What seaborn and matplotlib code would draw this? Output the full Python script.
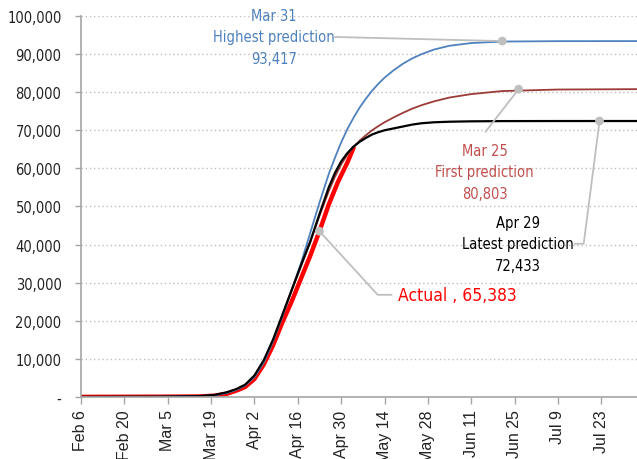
import pandas as pd
import matplotlib.pyplot as plt
import seaborn as sns

# Actual cumulative deaths
actual_dates = ["2020-02-06", "2020-03-01", "2020-03-15", "2020-03-20", "2020-03-24",
                "2020-03-27", "2020-03-30", "2020-04-02", "2020-04-05", "2020-04-08",
                "2020-04-11", "2020-04-14", "2020-04-17", "2020-04-20", "2020-04-23",
                "2020-04-26", "2020-04-29", "2020-05-02", "2020-05-04"]
actual = [0, 50, 100, 300, 800, 1600, 2600, 4700, 8500, 13500, 19500, 25000, 31000,
          37000, 43500, 50500, 56500, 61500, 65383]

# Model predictions
pred_dates = ["2020-02-06", "2020-03-01", "2020-03-15", "2020-03-20", "2020-03-24",
              "2020-03-27", "2020-03-30", "2020-04-02", "2020-04-05", "2020-04-08",
              "2020-04-11", "2020-04-14", "2020-04-17", "2020-04-20", "2020-04-23",
              "2020-04-26", "2020-04-28", "2020-04-30", "2020-05-02", "2020-05-04",
              "2020-05-06", "2020-05-08", "2020-05-10", "2020-05-12", "2020-05-14",
              "2020-05-17", "2020-05-20", "2020-05-23", "2020-05-26", "2020-05-30",
              "2020-06-04", "2020-06-11", "2020-06-21", "2020-07-09", "2020-08-04"]
mar31 = [0, 50, 200, 400, 1000, 1800, 3000, 5200, 9000, 14500, 21000, 28000, 35000,
         43000, 51000, 58500, 62800, 66800, 70300, 73300, 76000, 78300, 80400, 82200,
         83800, 85800, 87500, 88900, 90000, 91200, 92200, 92900, 93300, 93400, 93417]
mar25 = [0, 50, 200, 400, 1000, 1800, 3000, 5300, 9200, 14800, 21300, 27800, 34200,
         40600, 47500, 54000, 57800, 61000, 63600, 65600, 67300, 68700, 70000, 71100,
         72100, 73400, 74600, 75700, 76600, 77600, 78600, 79500, 80300, 80700, 80803]
apr29 = [0, 50, 200, 500, 1200, 2000, 3200, 5600, 9600, 15000, 21500, 28000, 34500,
         40700, 48000, 55000, 58800, 61800, 64000, 65700, 67000, 68000, 68900, 69500,
         70000, 70500, 71000, 71500, 71850, 72100, 72250, 72350, 72410, 72430, 72433]

df_act = pd.DataFrame({"date": pd.to_datetime(actual_dates), "deaths": actual})
df_pred = pd.DataFrame({"date": pd.to_datetime(pred_dates), "mar31": mar31,
                        "mar25": mar25, "apr29": apr29})

sns.set_style("white")
plt.rcParams["font.family"] = ["DejaVu Sans"]
plt.rcParams["font.stretch"] = "condensed"

start = pd.Timestamp("2020-02-06")
def day(n):
    return start + pd.Timedelta(days=n)

fig = plt.figure(figsize=(6.37, 4.6), dpi=100)
ax = fig.add_axes([0.127, 0.135, 0.873, 0.828])

blue = "#4F81BD"
brown = "#9B3B38"
grey = "#BFBFBF"

sns.lineplot(data=df_act, x="date", y="deaths", ax=ax, color="#FF0000", linewidth=3.2)
sns.lineplot(data=df_pred, x="date", y="mar25", ax=ax, color=brown, linewidth=1.3)
sns.lineplot(data=df_pred, x="date", y="mar31", ax=ax, color=blue, linewidth=1.3)
sns.lineplot(data=df_pred, x="date", y="apr29", ax=ax, color="black", linewidth=1.6)

ax.set_xlim(start, day(179.5))
ax.set_ylim(0, 100000)
ax.set_xlabel("")
ax.set_ylabel("")

xt = pd.date_range(start, periods=13, freq="14D")
ax.set_xticks(xt)
ax.set_xticklabels([f"{d:%b} {d.day}" for d in xt], rotation=90)
yt = list(range(0, 100001, 10000))
ax.set_yticks(yt)
ax.set_yticklabels(["-" if v == 0 else f"{v:,}" for v in yt], fontsize=10.5)

ax.yaxis.grid(True, linestyle=(0, (1, 2)), color="#BFBFBF", linewidth=1)
ax.xaxis.grid(False)
for s in ["top", "right"]:
    ax.spines[s].set_visible(False)
for s in ["left", "bottom"]:
    ax.spines[s].set_color("#A6A6A6")
    ax.spines[s].set_linewidth(1.2)
ax.tick_params(axis="x", length=5, color="#A6A6A6", width=1, pad=4, colors="#222222")
ax.tick_params(axis="y", length=4, color="#A6A6A6", width=1, pad=10, colors="#222222")
ax.tick_params(axis="both", which="both", direction="out", bottom=True, left=True)
for lbl in ax.get_xticklabels():
    lbl.set_fontfamily("Liberation Sans")
    lbl.set_fontstretch("normal")
    lbl.set_fontsize(11.5)

# annotation dots and leader lines
dot_kw = dict(color=grey, s=40, zorder=6, edgecolor="none")
line_kw = dict(color=grey, linewidth=1.3, zorder=5)
note_kw = dict(ha="center", va="center", fontsize=10.5, linespacing=1.55)

# Mar 31
ax.plot([day(82), day(136)], [94500, mar31[-1]], **line_kw)
ax.scatter([day(136)], [mar31[-1]], **dot_kw)
ax.text(day(62.3), 94500, "Mar 31\nHighest prediction\n93,417", color=blue, **note_kw)

# Mar 25
ax.plot([day(130.6), day(141.3)], [69600, mar25[-1]], **line_kw)
ax.scatter([day(141.3)], [mar25[-1]], **dot_kw)
ax.text(day(130.3), 59100, "Mar 25\nFirst prediction\n80,803", color="#C0504D", **note_kw)

# Apr 29
ax.plot([day(167.4), day(162.3), day(159.4)], [apr29[-1], 40200, 40200], **line_kw)
ax.scatter([day(167.4)], [apr29[-1]], **dot_kw)
ax.text(day(141), 40200, "Apr 29\nLatest prediction\n72,433", color="black", **note_kw)

# Actual
ax.plot([day(77), day(95.8), day(100.3)], [actual[14], 26800, 26800], **line_kw)
ax.scatter([day(77)], [actual[14]], **dot_kw)
ax.text(day(102.5), 26800, "Actual , 65,383", color="#FF0000",
        ha="left", va="center", fontsize=12.5)

fig.savefig("out.png", dpi=100)
